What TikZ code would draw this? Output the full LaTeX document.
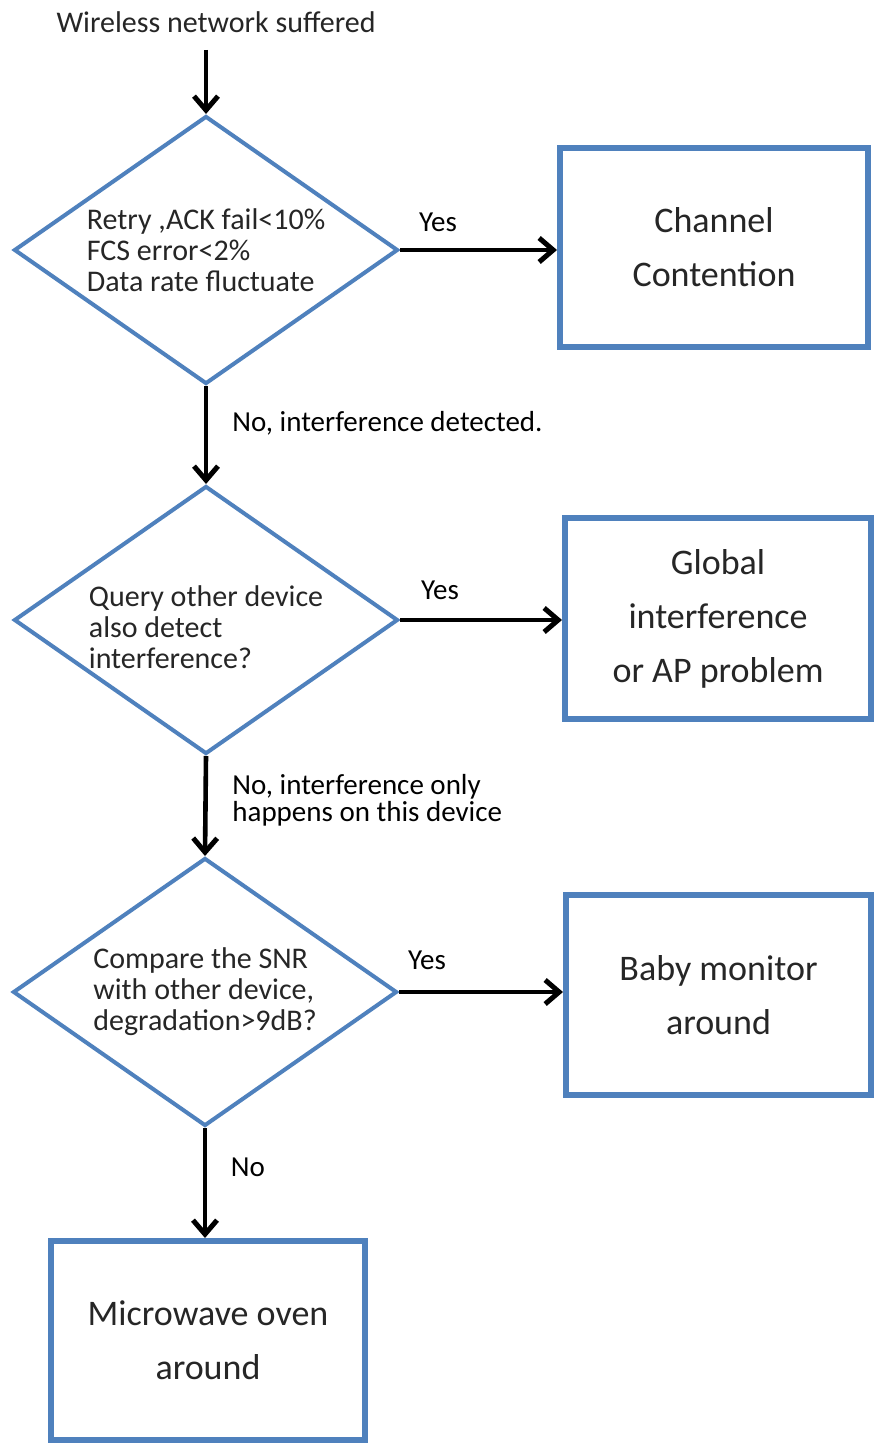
\documentclass[tikz,border=0pt]{standalone}
\usepackage{fontspec}
\setmainfont{Carlito}
\usetikzlibrary{shapes.geometric,arrows.meta}
\definecolor{boxblue}{HTML}{4F81BD}
\definecolor{txt}{HTML}{262626}
\tikzset{
  decision/.style={shape=diamond, draw=boxblue, line width=2pt, fill=white,
    minimum width=192pt, minimum height=134pt, inner sep=0pt, aspect=1.43,
    align=left, text=txt, font=\fontsize{15}{15.5}\selectfont},
  result/.style={shape=rectangle, draw=boxblue, line width=3pt, fill=white,
    minimum width=154pt, minimum height=100pt, inner sep=0pt,
    align=center, text=txt, font=\fontsize{18}{27}\selectfont},
  lbl/.style={text=black, font=\fontsize{14.5}{13.5}\selectfont, inner sep=0pt, align=left},
  arr/.style={line width=2.3pt, black, -{Straight Barb[length=7pt,width=12pt,line width=2.5pt]}}
}
\begin{document}
\begin{tikzpicture}[x=0.5pt,y=-0.5pt]
\useasboundingbox[fill=white] (0,0) rectangle (874,1443);
% top text
\node[lbl, font=\fontsize{15}{16}\selectfont, text=txt] (start) at (216,22) {Wireless network suffered};
\coordinate (startarr) at (206,50);
% decisions
\node[decision] (d1) at (206,250) {Retry ,ACK fail<10\%\\FCS error<2\%\\Data rate fluctuate};
\node[decision] (d2) at (206,620) {\raisebox{-9.25pt}[0pt][0pt]{\begin{tabular}{@{}l@{}}Query other device\\also detect\\interference?\end{tabular}}};
\node[decision] (d3) at (205,992) {Compare the SNR\\with other device,\\degradation>9dB?};
% results
\node[result, minimum width=154pt, minimum height=99.5pt] (b1) at (714,247.5) {Channel\\Contention};
\node[result, minimum width=153pt, minimum height=100.5pt] (b2) at (718,618.5) {Global\\interference\\or AP problem};
\node[result, minimum width=152.5pt, minimum height=100pt] (b3) at (718.5,995) {Baby monitor\\around};
\node[result, minimum width=157pt, minimum height=99.5pt] (b4) at (208,1340.5) {Microwave oven\\around};
% connectors
\draw[arr] (startarr) -- (d1.north);
\draw[arr] (d1.east) -- (d1.east -| b1.west);
\draw[arr] (d1.south) -- (d2.north);
\draw[arr] (d2.east) -- (d2.east -| b2.west);
\draw[arr] (d2.south) -- (d3.north);
\draw[arr] (d3.east) -- (d3.east -| b3.west);
\draw[arr] (d3.south) -- (d3.south |- b4.north);
% labels
\node[lbl] (y1) at (438,222) {Yes};
\node[lbl, anchor=west] (n1) at (232,423) {No, interference detected.};
\node[lbl] (y2) at (440,590) {Yes};
\node[lbl, anchor=west] (n2) at (232,800) {No, interference only\\happens on this device};
\node[lbl] (y3) at (427,960) {Yes};
\node[lbl] (n3) at (248,1167) {No};
\end{tikzpicture}
\end{document}
